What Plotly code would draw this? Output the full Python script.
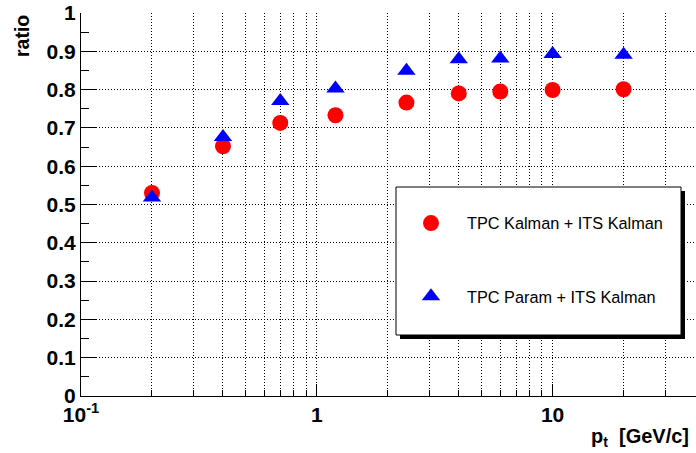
import plotly.graph_objects as go

# data
pt = [0.2, 0.4, 0.7, 1.2, 2.4, 4, 6, 10, 20]
ratio_kalman = [0.530, 0.652, 0.713, 0.733, 0.766, 0.790, 0.795, 0.799, 0.801]
ratio_param = [0.518, 0.676, 0.770, 0.803, 0.849, 0.879, 0.881, 0.893, 0.891]
name_kalman = "TPC Kalman + ITS Kalman"
name_param = "TPC Param + ITS Kalman"
x_major = [0.1, 1, 10]
x_major_text = ["10<sup>-1</sup>", "1", "10"]
x_minor = [0.2, 0.3, 0.4, 0.5, 0.6, 0.7, 0.8, 0.9, 2, 3, 4, 5, 6, 7, 8, 9, 20, 30]

W, H = 696, 453
L, R, T, B = 81, 0, 13, 57
pw, ph = W - L - R, H - T - B

def px(x):
    return (x - L) / pw

def py(y):
    return (H - B - y) / ph

FONT = "Liberation Sans, Arial, Helvetica, sans-serif"
GRIDDASH = "1px,2px"

fig = go.Figure()
fig.add_trace(go.Scatter(x=pt, y=ratio_kalman, mode="markers", name=name_kalman,
                         legendgroup="a",
                         marker=dict(symbol="circle", size=16, color="#ff0000")))
fig.add_trace(go.Scatter(x=pt, y=ratio_param, mode="markers", name=name_param,
                         legendgroup="b",
                         marker=dict(symbol="triangle-up", size=16, color="#0000ff")))

shapes = [
    dict(type="rect", xref="paper", yref="paper", layer="above",
         x0=px(400), x1=px(685), y0=py(339), y1=py(191),
         fillcolor="black", line=dict(width=0)),
    dict(type="rect", xref="paper", yref="paper", layer="above",
         x0=px(396), x1=px(681), y0=py(335), y1=py(187),
         fillcolor="white", line=dict(color="black", width=1)),
]

fig.update_layout(
    width=W, height=H,
    margin=dict(l=L, r=R, t=T, b=B, pad=0),
    paper_bgcolor="white", plot_bgcolor="white",
    font=dict(family=FONT, color="black"),
    shapes=shapes,
    showlegend=True,
    legend=dict(x=px(395), y=py(206), xanchor="left", yanchor="top",
                bgcolor="rgba(0,0,0,0)", borderwidth=0,
                font=dict(family=FONT, size=16.3, color="black"),
                itemwidth=62, tracegroupgap=49, traceorder="grouped"),
    xaxis=dict(type="log", range=[-1, -1 + pw / 235.8],
               tickmode="array", tickvals=x_major, ticktext=x_major_text,
               ticks="inside", ticklen=12, tickcolor="black",
               tickfont=dict(family=FONT, size=21, weight="bold"),
               showline=True, linecolor="black", linewidth=1,
               showgrid=True, gridcolor="black", gridwidth=1, griddash=GRIDDASH,
               minor=dict(tickmode="array", tickvals=x_minor, ticks="inside",
                          ticklen=6, tickcolor="black",
                          showgrid=True, gridcolor="black", gridwidth=1,
                          griddash=GRIDDASH),
               zeroline=False),
    yaxis=dict(range=[0, 1], dtick=0.1, tick0=0, tickformat=".1~f",
               ticks="inside", ticklen=16, tickcolor="black",
               tickfont=dict(family=FONT, size=21, weight="bold"),
               showline=True, linecolor="black", linewidth=1,
               showgrid=True, gridcolor="black", gridwidth=1, griddash=GRIDDASH,
               minor=dict(dtick=0.05, ticks="inside", ticklen=8, tickcolor="black",
                          showgrid=False),
               zeroline=False),
    annotations=[
        dict(text="<b>ratio</b>", xref="paper", yref="paper",
             x=px(22), y=py(36), xanchor="center", yanchor="middle",
             textangle=-90, showarrow=False,
             font=dict(family=FONT, size=19.5, color="black")),
        dict(text="<b>p<sub>t</sub>  [GeV/c]</b>", xref="paper", yref="paper",
             x=px(691), y=py(437), xanchor="right", yanchor="middle",
             showarrow=False,
             font=dict(family=FONT, size=20, color="black")),
    ],
)

fig.write_html("out.html", config={"displayModeBar": False},
               post_script="document.body.style.margin='0px';")
